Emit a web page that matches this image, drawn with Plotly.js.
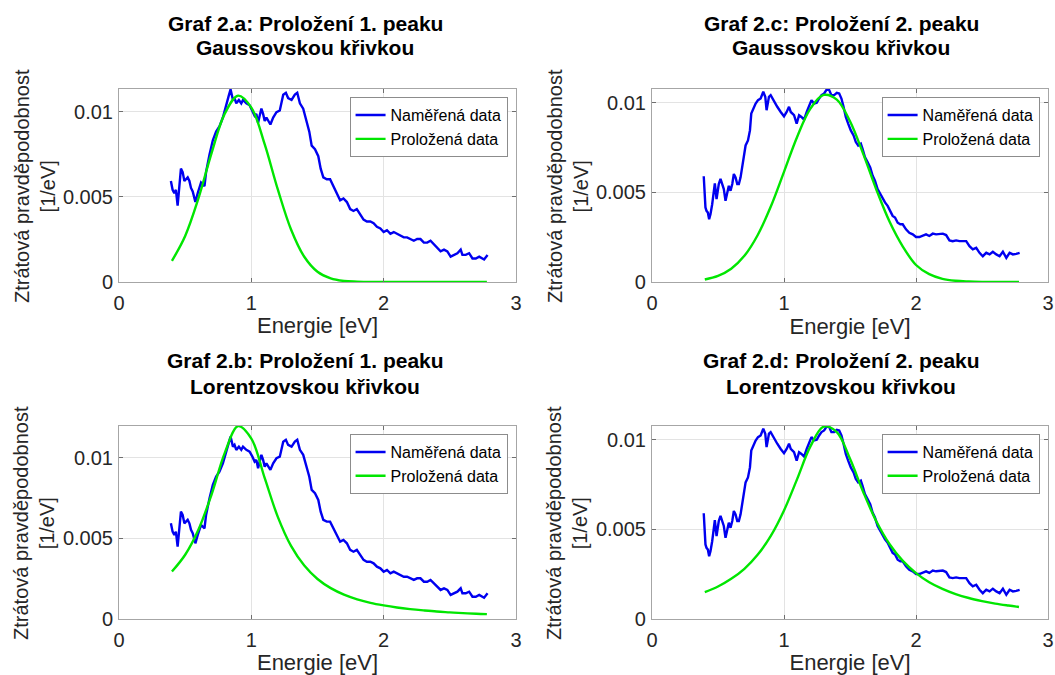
<!DOCTYPE html>
<html>
<head>
<meta charset="utf-8">
<script src="https://cdn.plot.ly/plotly-3.0.1.min.js"></script>
<style>html,body{margin:0;padding:0;background:#fff;}#chart{width:1055px;height:675px;}</style>
</head>
<body>
<div id="chart"></div>
<script>
// ---------- data ----------
const panelTitles = [
  ['Graf 2.a: Proložení 1. peaku', 'Gaussovskou křivkou'],
  ['Graf 2.c: Proložení 2. peaku', 'Gaussovskou křivkou'],
  ['Graf 2.b: Proložení 1. peaku', 'Lorentzovskou křivkou'],
  ['Graf 2.d: Proložení 2. peaku', 'Lorentzovskou křivkou']
];
const xAxisTitle = 'Energie [eV]';
const yAxisTitle = 'Ztrátová pravděpodobnost<br>[1/eV]';
const seriesNames = ['Naměřená data', 'Proložená data'];

const xTickVals = [0, 1, 2, 3];
const xTickText = ['0', '1', '2', '3'];
const yTickVals = [0, 0.005, 0.01];
const yTickText = ['0', '0.005', '0.01'];

// measured data, first peak panels (2.a, 2.b)
const energy1 = [0.392,0.405,0.418,0.430,0.443,0.456,0.468,0.481,0.494,0.506,0.519,0.532,0.544,0.557,0.577,0.595,0.620,0.646,0.658,0.684,
0.709,0.734,0.759,0.785,0.797,0.810,0.828,0.843,0.861,0.873,0.886,0.906,0.924,0.937,0.962,0.987,1.008,1.025,1.038,1.051,
1.063,1.076,1.089,1.101,1.114,1.127,1.144,1.165,1.190,1.215,1.241,1.261,1.278,1.304,1.329,1.347,1.367,1.392,1.413,1.438,
1.456,1.481,1.506,1.524,1.544,1.570,1.595,1.620,1.646,1.671,1.696,1.722,1.747,1.772,1.797,1.823,1.848,1.873,1.899,1.924,
1.949,1.975,2.000,2.025,2.051,2.076,2.101,2.127,2.152,2.177,2.203,2.228,2.253,2.278,2.304,2.329,2.354,2.380,2.405,2.430,
2.456,2.481,2.506,2.532,2.557,2.582,2.595,2.620,2.646,2.671,2.696,2.722,2.747,2.759,2.785];
const loss1 = [0.00593,0.00541,0.00521,0.00541,0.00448,0.00583,0.00665,0.00645,0.00593,0.00603,0.00614,0.00593,0.00552,0.00531,0.00469,0.00521,0.00583,0.00562,0.00645,0.00748,
0.00831,0.00882,0.00913,0.00965,0.00996,0.01037,0.01089,0.01130,0.01068,0.01079,0.01048,0.01068,0.01048,0.01068,0.01048,0.01037,0.01006,0.00975,0.00986,0.00934,
0.00975,0.01017,0.00986,0.00944,0.00965,0.00944,0.00924,0.00965,0.00996,0.01006,0.01099,0.01110,0.01079,0.01068,0.01099,0.01110,0.01048,0.01017,0.00955,0.00882,
0.00800,0.00779,0.00738,0.00665,0.00614,0.00603,0.00603,0.00562,0.00521,0.00479,0.00490,0.00469,0.00428,0.00417,0.00428,0.00397,0.00366,0.00355,0.00355,0.00345,
0.00324,0.00314,0.00293,0.00304,0.00283,0.00293,0.00283,0.00273,0.00262,0.00262,0.00252,0.00242,0.00252,0.00252,0.00231,0.00231,0.00242,0.00221,0.00200,0.00180,
0.00190,0.00180,0.00149,0.00159,0.00169,0.00190,0.00159,0.00159,0.00169,0.00138,0.00138,0.00149,0.00138,0.00132,0.00159];

// measured data, second peak panels (2.c, 2.d)
const energy2 = [0.392,0.397,0.405,0.413,0.423,0.433,0.443,0.456,0.468,0.476,0.489,0.506,0.519,0.534,0.544,0.557,0.570,0.582,0.595,0.608,
0.620,0.633,0.646,0.658,0.671,0.684,0.696,0.709,0.727,0.742,0.752,0.767,0.785,0.803,0.823,0.843,0.858,0.868,0.886,0.899,
0.924,0.949,0.975,1.000,1.020,1.038,1.051,1.076,1.096,1.114,1.132,1.152,1.172,1.190,1.208,1.228,1.248,1.266,1.284,1.304,
1.324,1.342,1.359,1.380,1.400,1.418,1.435,1.451,1.468,1.486,1.506,1.527,1.544,1.562,1.582,1.595,1.613,1.633,1.653,1.671,
1.689,1.709,1.729,1.747,1.765,1.785,1.805,1.823,1.841,1.861,1.881,1.899,1.924,1.949,1.975,2.000,2.025,2.051,2.076,2.101,
2.127,2.152,2.177,2.203,2.228,2.253,2.278,2.304,2.329,2.354,2.380,2.405,2.430,2.456,2.481,2.506,2.532,2.557,2.582,2.608,
2.633,2.658,2.684,2.709,2.734,2.759,2.785];
const loss2 = [0.00590,0.00509,0.00416,0.00397,0.00388,0.00350,0.00378,0.00434,0.00528,0.00551,0.00463,0.00547,0.00575,0.00547,0.00519,0.00453,0.00500,0.00537,0.00509,0.00547,
0.00603,0.00584,0.00547,0.00547,0.00584,0.00640,0.00697,0.00762,0.00790,0.00846,0.00940,0.00968,0.00996,0.01015,0.01024,0.01062,0.01034,0.00959,0.01034,0.01043,
0.01006,0.00978,0.00949,0.00925,0.00949,0.00978,0.00949,0.00931,0.00884,0.00931,0.00921,0.00906,0.00949,0.00978,0.01015,0.00996,0.01000,0.01024,0.01043,0.01052,
0.01075,0.01071,0.01043,0.01043,0.01056,0.01052,0.01024,0.00978,0.00921,0.00884,0.00846,0.00818,0.00781,0.00762,0.00772,0.00743,0.00697,0.00669,0.00640,0.00594,
0.00566,0.00519,0.00491,0.00472,0.00444,0.00425,0.00397,0.00369,0.00360,0.00331,0.00322,0.00322,0.00294,0.00275,0.00266,0.00251,0.00251,0.00257,0.00266,0.00257,
0.00270,0.00266,0.00266,0.00270,0.00262,0.00232,0.00228,0.00232,0.00228,0.00228,0.00228,0.00200,0.00182,0.00191,0.00163,0.00144,0.00163,0.00154,0.00169,0.00154,
0.00144,0.00169,0.00135,0.00163,0.00154,0.00157,0.00163];

// fitted curves
const fitEnergy = [0.4,0.5,0.6,0.7,0.8,0.9,1.0,1.1,1.2,1.3,1.4,1.5,1.6,1.7,1.8,1.9,2.0,2.1,2.2,2.3,2.4,2.5,2.6,2.7,2.78];
const fitGauss1 = [0.00124,0.00270,0.00490,0.00758,0.00989,0.01093,0.01023,0.00810,0.00543,0.00308,0.00148,0.00060,0.00021,0.00006,0.00002,0,0,0,0,0,0,0,0,0,0];
const fitLorentz1 = [0.00294,0.00398,0.00553,0.00773,0.01031,0.01195,0.01118,0.00876,0.00633,0.00453,0.00331,0.00248,0.00191,0.00151,0.00122,0.00100,0.00084,0.00071,0.00061,0.00053,0.00046,0.00041,0.00036,0.00032,0.00030];
const fitGauss2 = [0.00014,0.00034,0.00074,0.00146,0.00261,0.00421,0.00615,0.00811,0.00968,0.01044,0.01018,0.00897,0.00715,0.00515,0.00336,0.00198,0.00095,0.00044,0.00018,0.00007,0.00003,0.00001,0,0,0];
const fitLorentz2 = [0.00150,0.00181,0.00224,0.00280,0.00358,0.00464,0.00606,0.00782,0.00963,0.01073,0.01043,0.00894,0.00709,0.00544,0.00417,0.00324,0.00256,0.00205,0.00168,0.00139,0.00117,0.00100,0.00086,0.00075,0.00067];

const yMax = [0.01132, 0.01077, 0.01196, 0.01077];

// ---------- styling ----------
const BLUE = '#0000f0';
const GREEN = '#00e600';
const FONT = '"Liberation Sans", Arial, Helvetica, sans-serif';
const TXT = '#262626';

const measured = [[energy1, loss1], [energy2, loss2], [energy1, loss1], [energy2, loss2]];
const fits = [fitGauss1, fitGauss2, fitLorentz1, fitLorentz2];

const xDom = [[0.1128, 0.4891], [0.6180, 0.9934]];
const yDom = [[0.5822, 0.8681], [0.0830, 0.3689]];
const titleX = [0.2891, 0.7972];
const titleY = [[0.9659, 0.9289], [0.4652, 0.4281]];

const traces = [];
const layout = {
  width: 1055, height: 675,
  margin: {l: 0, r: 0, t: 0, b: 0},
  paper_bgcolor: '#ffffff', plot_bgcolor: '#ffffff',
  font: {family: FONT, color: TXT},
  showlegend: true,
  annotations: []
};

for (let i = 0; i < 4; i++) {
  const n = i + 1;
  const sfx = n === 1 ? '' : String(n);
  const col = i % 2, row = Math.floor(i / 2);
  const legendId = 'legend' + sfx;
  traces.push({
    x: measured[i][0], y: measured[i][1], type: 'scatter', mode: 'lines',
    xaxis: 'x' + sfx, yaxis: 'y' + sfx, name: seriesNames[0], legend: legendId,
    line: {color: BLUE, width: 2.4}
  });
  traces.push({
    x: fitEnergy, y: fits[i], type: 'scatter', mode: 'lines',
    xaxis: 'x' + sfx, yaxis: 'y' + sfx, name: seriesNames[1], legend: legendId,
    line: {color: GREEN, width: 2.4, shape: 'spline', smoothing: 1}
  });
  const common = {
    showline: true, mirror: 'ticks', linecolor: '#a6a6a6', linewidth: 1,
    ticks: 'inside', ticklen: 4, tickcolor: '#6e6e6e', tickwidth: 1,
    showgrid: true, gridcolor: '#e3e3e3', gridwidth: 1, zeroline: false,
    tickfont: {size: 20, color: TXT, family: FONT}, fixedrange: true
  };
  layout['xaxis' + sfx] = Object.assign({}, common, {
    domain: xDom[col], anchor: 'y' + sfx, range: [0, 3],
    tickmode: 'array', tickvals: xTickVals, ticktext: xTickText,
    ticklabelstandoff: 3,
    title: {text: xAxisTitle, font: {size: 22, color: TXT, family: FONT}, standoff: 4}
  });
  layout['yaxis' + sfx] = Object.assign({}, common, {
    domain: yDom[row], anchor: 'x' + sfx, range: [0, yMax[i]],
    tickmode: 'array', tickvals: yTickVals, ticktext: yTickText,
    ticklabelstandoff: 1
  });
  const xr = xDom[col][1] - 0.008;
  const yt = yDom[row][1] - 0.012;
  layout[legendId] = {
    x: xr, xanchor: 'right', y: yt, yanchor: 'top',
    bgcolor: '#ffffff', bordercolor: '#8c8c8c', borderwidth: 1,
    font: {size: 16, color: '#000000', family: FONT},
    itemwidth: 30, tracegroupgap: 0, itemclick: false, itemdoubleclick: false
  };
  // panel title (two lines)
  for (let k = 0; k < 2; k++) {
    layout.annotations.push({
      xref: 'paper', yref: 'paper',
      x: titleX[col], y: titleY[row][k],
      xanchor: 'center', yanchor: 'middle', showarrow: false,
      text: '<b>' + panelTitles[i][k] + '</b>',
      font: {size: 21, color: '#000000', family: FONT}
    });
  }
  // y axis title
  layout.annotations.push({
    xref: 'paper', yref: 'paper',
    x: col === 0 ? 0.0327 : 0.5379, y: (yDom[row][0] + yDom[row][1]) / 2,
    xanchor: 'center', yanchor: 'middle', showarrow: false, textangle: -90,
    text: yAxisTitle,
    font: {size: 20, color: TXT, family: FONT}
  });
}

Plotly.newPlot('chart', traces, layout, {displayModeBar: false, staticPlot: true});
</script>
</body>
</html>
